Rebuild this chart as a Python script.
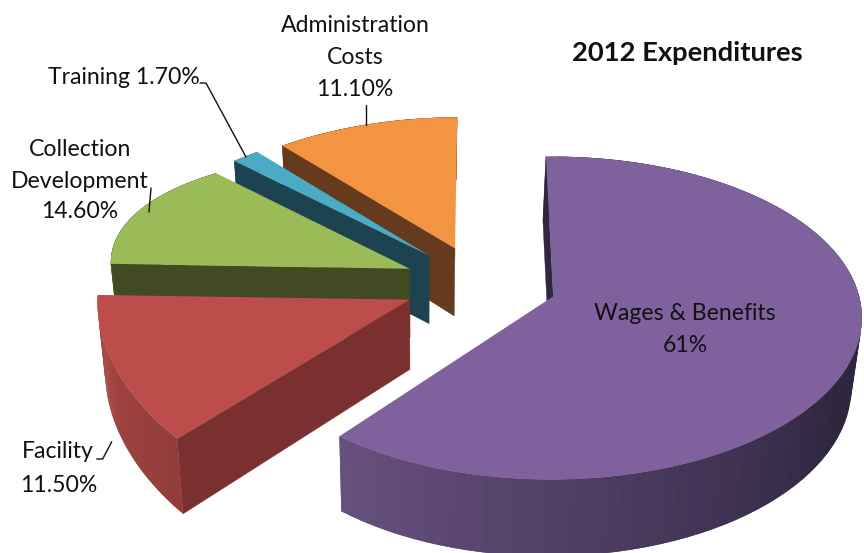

import numpy as np, seaborn as sns, matplotlib
matplotlib.use('Agg')
import matplotlib.pyplot as plt
from matplotlib.transforms import Transform
from matplotlib.colors import to_rgb

# ---- data ----
labels = ['Wages & Benefits', 'Facility', 'Collection Development', 'Training', 'Administration Costs']
values = [61, 11.5, 14.6, 1.7, 11.1]

# ---- style ----
colors = ['#7f629d', '#bc4d4a', '#9bbb59', '#4aabc5', '#f39443']
dark = ['#2f2640', '#7a3030', '#414a21', '#1d4350', '#663a1c']

# ---- perspective view of the exploded 3-D pie ----
VIEW = [307.184392, 67.423129, 552.073127, 5.653837, -119.653078, 295.116779, 0.000539, 0.134992]
SLICE_VIEW = [[0.00354, -0.0079, 1.00264, -0.00348, 0.06308, 0.99181],
              [-0.46214, -0.04434, 1.02368, -0.02027, -0.17581, 1.17771],
              [-0.46947, 0.15222, 1.0046, -0.0012, -0.12275, 0.8155],
              [-0.40741, 0.24109, 0.99475, -0.02272, 0.03416, 0.99155],
              [-0.32201, 0.29405, 1.00653, -0.01082, 0.04715, 1.00455]]


def project(q, u, v):
    a = q[0] + q[2] * u + q[3] * v
    b = q[1] + q[4] * u + q[5] * v
    p = VIEW
    w = p[6] * a + p[7] * b + 1
    return (p[0] * a + p[1] * b + p[2]) / w, (p[3] * a + p[4] * b + p[5]) / w


class Persp(Transform):
    input_dims = output_dims = 2

    def __init__(self, q):
        super().__init__()
        self.q = q

    def transform_non_affine(self, values):
        v = np.asarray(values)
        X, Y = project(self.q, v[:, 0], v[:, 1])
        return np.column_stack([X, Y])


def drop(X, Y):
    return X + 0.024 * (420 - X), Y + 58 + 0.039 * Y


sns.set_theme(style='white')
plt.rcParams['font.family'] = ['Lato', 'DejaVu Sans']
fig = plt.figure(figsize=(8.64, 5.53), dpi=100)
ax = fig.add_axes([0, 0, 1, 1])
wedges, _ = ax.pie(values, colors=colors, startangle=90, counterclock=False, radius=1, labels=None)
ax.set_aspect('auto')
ax.set_xlim(0, 864)
ax.set_ylim(553, 0)
ax.axis('off')

zs = [50, 40, 30, 20, 10]
for i, w in enumerate(wedges):
    w.set_transform(Persp(SLICE_VIEW[i]) + ax.transData)
    w.set_zorder(zs[i])
    w.set_edgecolor('none')
    w.set_clip_on(True)
    # the pie's own angles, turned to clockwise from twelve o'clock
    t = np.radians(np.linspace(90 - w.theta2, 90 - w.theta1, 90))
    X, Y = project(SLICE_VIEW[i], np.sin(t), np.cos(t))
    BX, BY = drop(X, Y)
    ax0, ay0 = project(SLICE_VIEW[i], 0., 0.)
    bx0, by0 = drop(ax0, ay0)
    for j in range(len(t) - 1):
        th = np.degrees(t[j]) % 360
        k = min(j + 2, len(t) - 1)
        if i == 0:
            m = np.clip((th - 120) / (219.6 - 120), 0, 1)
            c = np.array(to_rgb('#2f2640')) * (1 - m) + np.array(to_rgb('#68517f')) * m
        elif i == 1:
            m = np.clip((th - 219.6) / 41, 0, 1)
            c = np.array(to_rgb('#923d3a')) * (1 - m) + np.array(to_rgb('#ab4744')) * m
        else:
            c = to_rgb(dark[i])
        ax.fill([X[j], X[k], BX[k], BX[j]], [Y[j], Y[k], BY[k], BY[j]], color=c, lw=0, zorder=zs[i] - 2)
    ax.fill([ax0, X[0], BX[0], bx0], [ay0, Y[0], BY[0], by0], color=dark[i], lw=.3, zorder=zs[i] - 1)

F = 16.6
txt = [('2012 Expenditures', 687, 53, 19.7, 'bold'),
       ('Administration', 355, 25, F, 'normal'), ('Costs', 355, 58, F, 'normal'), ('11.10%', 355, 90, F, 'normal'),
       ('Training 1.70%', 124, 77, F, 'normal'),
       ('Collection', 80, 149, F, 'normal'), ('Development', 80, 181, F, 'normal'), ('14.60%', 80, 212, F, 'normal'),
       ('Facility', 58, 452, F, 'normal'), ('11.50%', 59, 485, F, 'normal'),
       ('Wages & Benefits', 685, 313, F, 'normal'), ('61%', 685, 346, F, 'normal')]
for s, x, y, sz, wt in txt:
    ax.text(x, y, s, ha='center', va='center', fontsize=sz, fontweight=wt, color='#111111', zorder=80)
leaders = [([200, 206, 246], [83, 83, 157]), ([151, 149], [188, 212]),
           ([96.7, 102.7, 111.7], [459, 459, 441.7]), ([365.7, 365.7], [105, 125])]
for lx, ly in leaders:
    ax.plot(lx, ly, color='#111111', lw=1, zorder=70)
fig.savefig('out.png', dpi=100)
